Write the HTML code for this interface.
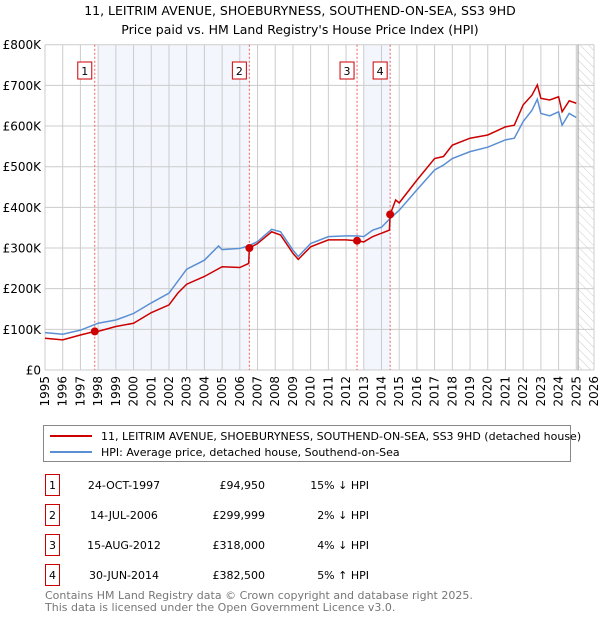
<!DOCTYPE html>
<html><head><meta charset="utf-8">
<style>
body{margin:0;background:#fff;font-family:"DejaVu Sans","Liberation Sans",sans-serif;}
svg text{font-family:"DejaVu Sans","Liberation Sans",sans-serif;}
</style></head>
<body>
<svg id="chart" width="600" height="620" xmlns="http://www.w3.org/2000/svg">
<defs>
<pattern id="hatch" width="6" height="6" patternUnits="userSpaceOnUse" patternTransform="rotate(-45)">
<line x1="0" y1="0" x2="0" y2="6" stroke="#ccc" stroke-width="1"/>
</pattern>
</defs>
<text x="300" y="15" text-anchor="middle" font-size="12.5">11, LEITRIM AVENUE, SHOEBURYNESS, SOUTHEND-ON-SEA, SS3 9HD</text>
<text x="300" y="34" text-anchor="middle" font-size="12.5">Price paid vs. HM Land Registry's House Price Index (HPI)</text>
<g id="plot"></g>
<rect x="43.5" y="425.5" width="527" height="36" fill="#fff" stroke="#888"/>
<line x1="50" y1="436" x2="92" y2="436" stroke="#cc0000" stroke-width="2"/>
<text x="101" y="440" font-size="11">11, LEITRIM AVENUE, SHOEBURYNESS, SOUTHEND-ON-SEA, SS3 9HD (detached house)</text>
<line x1="50" y1="452" x2="92" y2="452" stroke="#5b8fd4" stroke-width="2"/>
<text x="101" y="456" font-size="11">HPI: Average price, detached house, Southend-on-Sea</text>
<g id="table" font-size="11"></g>
<text x="45" y="599" font-size="11" fill="#777">Contains HM Land Registry data © Crown copyright and database right 2025.</text>
<text x="45" y="611" font-size="11" fill="#777">This data is licensed under the Open Government Licence v3.0.</text>
</svg>
<script>
const hpiYears=[1995,1996,1997,1998,1999,2000,2001,2002,2003,2004,2004.8,2005,2006,2006.5,2007,2007.8,2008.3,2009,2009.3,2010,2011,2012,2012.6,2013,2013.5,2014,2014.5,2015,2016,2017,2017.5,2018,2019,2020,2021,2021.5,2022,2022.5,2022.8,2023,2023.5,2024,2024.2,2024.6,2025];
const hpiValues=[92,88,98,115,123,139,165,189,248,270,305,296,299,305,316,346,340,295,279,311,328,330,330,328,344,351,373,393,443,492,504,520,537,548,566,570,611,639,666,631,625,635,602,631,621];
const priceYears=[1995,1996,1997,1997.81,1998,1999,2000,2001,2002,2002.5,2003,2004,2005,2006,2006.5,2006.54,2007,2007.8,2008.3,2009,2009.3,2010,2011,2012,2012.62,2013,2013.5,2014.45,2014.49,2014.8,2015,2016,2017,2017.5,2018,2019,2020,2021,2021.5,2022,2022.5,2022.8,2023,2023.5,2024,2024.2,2024.6,2025];
const priceValues=[78,74,86,94.95,95,107,115,141,160,189,211,230,254,252,262,300,311,340,332,287,272,303,320,320,318,315,328,344,382.5,418,411,467,520,525,553,570,578,598,602,652,676,701,668,664,672,635,662,656];
const saleLabels=["1","2","3","4"];
const saleYears=[1997.81,2006.54,2012.62,2014.49];
const saleValues=[94.95,299.999,318,382.5];
const saleDates=["24-OCT-1997","14-JUL-2006","15-AUG-2012","30-JUN-2014"];
const salePrices=["£94,950","£299,999","£318,000","£382,500"];
const saleHpi=["15% ↓ HPI","2% ↓ HPI","4% ↓ HPI","5% ↑ HPI"];
const yTicks=[0,100,200,300,400,500,600,700,800];
const yTickLabels=["£0","£100K","£200K","£300K","£400K","£500K","£600K","£700K","£800K"];
const xTicks=[1995,1996,1997,1998,1999,2000,2001,2002,2003,2004,2005,2006,2007,2008,2009,2010,2011,2012,2013,2014,2015,2016,2017,2018,2019,2020,2021,2022,2023,2024,2025,2026];
const shadeSpans=[[1998,2006.54],[2013,2014.49]];
const hatchStart=2025.1;

const L=45,R=594,T=44.7,B=370;
const X=y=>L+(y-1995)/(2026-1995)*(R-L);
const Y=v=>B-v/800*(B-T);
const NS="http://www.w3.org/2000/svg";
const plot=document.getElementById('plot');
function mk(tag,attrs,parent){const e=document.createElementNS(NS,tag);for(const k in attrs)e.setAttribute(k,attrs[k]);(parent||plot).appendChild(e);return e;}

shadeSpans.forEach(s=>{const r=mk('rect',{x:X(s[0]),y:T,width:X(s[1])-X(s[0]),height:B-T,fill:'#f3f6fd'});

});
const h=mk('rect',{x:X(hatchStart),y:T,width:R-X(hatchStart),height:B-T,fill:'url(#hatch)'});


xTicks.forEach(t=>{const l=mk('line',{x1:X(t),x2:X(t),y1:T,y2:B,stroke:'#ccc','stroke-width':1});


const tx=mk('text',{x:0,y:0,'font-size':12,'text-anchor':'end',transform:`translate(${X(t)+4},${B+6}) rotate(-90)`});
tx.textContent=t;

});
yTicks.forEach((t,i)=>{const l=mk('line',{x1:L,x2:R,y1:Y(t),y2:Y(t),stroke:'#ccc','stroke-width':1});


const tx=mk('text',{x:L-4,y:Y(t)+4.5,'font-size':12,'text-anchor':'end'});
tx.textContent=yTickLabels[i];

});
const vl=mk('line',{x1:X(hatchStart),x2:X(hatchStart),y1:T,y2:B,stroke:'#999','stroke-width':1});


saleYears.forEach((y,i)=>{const l=mk('line',{x1:X(y),x2:X(y),y1:T,y2:B,stroke:'#e86060','stroke-width':1,'stroke-dasharray':'2,2'});


const bx=mk('rect',{x:X(y)-17,y:62,width:14,height:17,fill:'#fff',stroke:'#cc0000'});


const tx=mk('text',{x:X(y)-10,y:75,'font-size':11,'text-anchor':'middle'});
tx.textContent=saleLabels[i];

});
const hp=mk('polyline',{points:hpiYears.map((y,i)=>X(y)+','+Y(hpiValues[i])).join(' '),fill:'none',stroke:'#5b8fd4','stroke-width':1.5});


const pp=mk('polyline',{points:priceYears.map((y,i)=>X(y)+','+Y(priceValues[i])).join(' '),fill:'none',stroke:'#cc0000','stroke-width':1.5});


saleYears.forEach((y,i)=>{const c=mk('circle',{cx:X(y),cy:Y(saleValues[i]),r:4,fill:'#cc0000'});

});

const tb=document.getElementById('table');
const rowY=[489,519,549,579];
saleLabels.forEach((s,i)=>{
const b=mk('rect',{x:45.5,y:rowY[i]-14.5,width:14,height:21,fill:'#fff',stroke:'#cc0000'},tb);


const t1=mk('text',{x:52.5,y:rowY[i],'text-anchor':'middle'},tb);t1.textContent=s;


const t2=mk('text',{x:124,y:rowY[i],'text-anchor':'middle'},tb);t2.textContent=saleDates[i];


const t3=mk('text',{x:265,y:rowY[i],'text-anchor':'end'},tb);t3.textContent=salePrices[i];


const t4=mk('text',{x:369,y:rowY[i],'text-anchor':'end'},tb);t4.textContent=saleHpi[i];


});
</script>
</body></html>
